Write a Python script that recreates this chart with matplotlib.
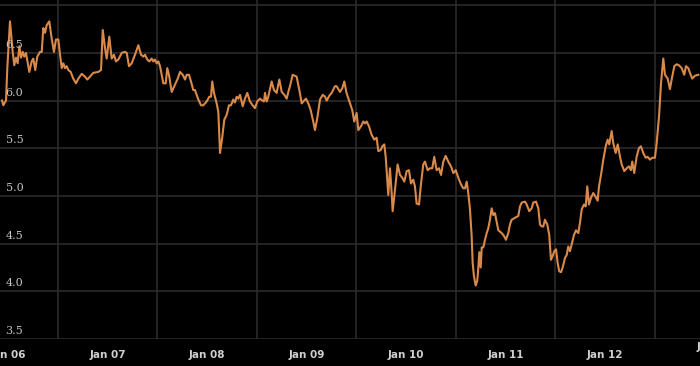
import matplotlib
matplotlib.use('Agg')
import matplotlib.pyplot as plt
from matplotlib.transforms import blended_transform_factory

# years since Jan 2006
years_since_2006 = [
    -0.060, -0.047, -0.020, -0.007, 0.020, 0.047, 0.063, 0.080, 0.097, 0.114,
    0.131, 0.148, 0.164, 0.181, 0.214, 0.238, 0.254, 0.274, 0.294, 0.322,
    0.339, 0.355, 0.372, 0.389, 0.415, 0.439, 0.462, 0.482, 0.506, 0.523,
    0.540, 0.556, 0.573, 0.590, 0.606, 0.630, 0.656, 0.683, 0.707, 0.741,
    0.774, 0.797, 0.824, 0.857, 0.908, 0.935, 0.952, 0.975, 0.992, 1.018,
    1.042, 1.065, 1.085, 1.109, 1.143, 1.176, 1.193, 1.216, 1.243, 1.276,
    1.310, 1.337, 1.360, 1.377, 1.400, 1.420, 1.444, 1.460, 1.477, 1.494,
    1.511, 1.528, 1.545, 1.561, 1.585, 1.601, 1.618, 1.645, 1.671, 1.706,
    1.729, 1.756, 1.779, 1.796, 1.819, 1.839, 1.862, 1.879, 1.913, 1.940,
    1.963, 1.997, 2.023, 2.040, 2.053, 2.070, 2.097, 2.114, 2.131, 2.154,
    2.174, 2.198, 2.221, 2.241, 2.264, 2.281, 2.298, 2.315, 2.332, 2.359,
    2.382, 2.405, 2.432, 2.459, 2.482, 2.505, 2.533, 2.556, 2.573, 2.583,
    2.600, 2.616, 2.650, 2.673, 2.700, 2.727, 2.751, 2.777, 2.801, 2.817,
    2.834, 2.861, 2.901, 2.928, 2.952, 2.968, 2.995, 3.018, 3.042, 3.068,
    3.085, 3.109, 3.136, 3.163, 3.186, 3.203, 3.229, 3.253, 3.286, 3.303,
    3.337, 3.360, 3.380, 3.402, 3.437, 3.460, 3.480, 3.504, 3.521, 3.548,
    3.571, 3.588, 3.605, 3.628, 3.655, 3.681, 3.705, 3.722, 3.746, 3.762,
    3.782, 3.796, 3.812, 3.822, 3.839, 3.856, 3.866, 3.889, 3.916, 3.940,
    3.963, 3.983, 4.007, 4.030, 4.050, 4.073, 4.090, 4.107, 4.131, 4.151,
    4.174, 4.191, 4.218, 4.241, 4.264, 4.284, 4.308, 4.332, 4.352, 4.375,
    4.399, 4.425, 4.452, 4.476, 4.500, 4.526, 4.553, 4.576, 4.593, 4.610,
    4.626, 4.643, 4.660, 4.670, 4.683, 4.700, 4.716, 4.726, 4.737, 4.751,
    4.761, 4.777, 4.794, 4.811, 4.827, 4.844, 4.861, 4.877, 4.894, 4.911,
    4.928, 4.962, 4.985, 5.005, 5.028, 5.045, 5.062, 5.095, 5.129, 5.146,
    5.163, 5.196, 5.213, 5.239, 5.263, 5.279, 5.307, 5.330, 5.347, 5.364,
    5.380, 5.397, 5.420, 5.440, 5.457, 5.474, 5.490, 5.508, 5.524, 5.540,
    5.558, 5.575, 5.598, 5.615, 5.631, 5.648, 5.665, 5.688, 5.709, 5.732,
    5.749, 5.766, 5.789, 5.806, 5.822, 5.839, 5.859, 5.882, 5.906, 5.926,
    5.940, 5.960, 5.983, 6.007, 6.027, 6.043, 6.067, 6.084, 6.108, 6.128,
    6.151, 6.168, 6.194, 6.218, 6.241, 6.261, 6.274, 6.294, 6.318, 6.341,
    6.361, 6.385, 6.409, 6.429, 6.452, 6.475, 6.502, 6.519, 6.543, 6.563,
    6.586, 6.603, 6.630, 6.653, 6.670, 6.697, 6.720, 6.743, 6.771, 6.797,
    6.814, 6.837, 6.854, 6.877, 6.904, 6.938,
]

rate = [
    6.00, 5.95, 6.00, 6.34, 6.83, 6.51, 6.37, 6.45, 6.39, 6.57,
    6.45, 6.51, 6.46, 6.50, 6.30, 6.41, 6.44, 6.32, 6.46, 6.51,
    6.51, 6.76, 6.71, 6.79, 6.83, 6.65, 6.51, 6.64, 6.64, 6.48,
    6.34, 6.39, 6.34, 6.36, 6.32, 6.30, 6.23, 6.18, 6.23, 6.28,
    6.25, 6.22, 6.25, 6.29, 6.30, 6.32, 6.74, 6.55, 6.44, 6.67,
    6.44, 6.48, 6.41, 6.43, 6.50, 6.51, 6.50, 6.36, 6.39, 6.48,
    6.58, 6.48, 6.46, 6.48, 6.43, 6.41, 6.44, 6.41, 6.43, 6.39,
    6.41, 6.36, 6.27, 6.18, 6.18, 6.34, 6.27, 6.09, 6.15, 6.23,
    6.30, 6.27, 6.22, 6.27, 6.27, 6.20, 6.11, 6.11, 6.01, 5.95,
    5.95, 5.99, 6.04, 6.04, 6.20, 6.08, 5.97, 5.88, 5.45, 5.62,
    5.80, 5.85, 5.95, 5.95, 6.01, 5.98, 6.04, 6.02, 6.06, 5.94,
    6.02, 6.08, 5.99, 5.95, 5.92, 5.99, 6.02, 6.00, 5.99, 6.08,
    5.99, 6.04, 6.20, 6.11, 6.08, 6.22, 6.09, 6.06, 6.02, 6.09,
    6.15, 6.27, 6.25, 6.11, 5.97, 5.99, 6.02, 5.97, 5.90, 5.78,
    5.69, 5.82, 6.01, 6.06, 6.04, 6.00, 6.05, 6.08, 6.15, 6.15,
    6.09, 6.13, 6.20, 6.08, 5.97, 5.90, 5.78, 5.87, 5.69, 5.73,
    5.78, 5.76, 5.78, 5.73, 5.64, 5.59, 5.61, 5.47, 5.48, 5.52,
    5.54, 5.41, 5.17, 5.01, 5.29, 5.03, 4.84, 5.06, 5.33, 5.22,
    5.19, 5.15, 5.26, 5.27, 5.13, 5.17, 5.10, 4.92, 4.91, 5.13,
    5.33, 5.36, 5.27, 5.29, 5.29, 5.41, 5.27, 5.29, 5.22, 5.36,
    5.42, 5.36, 5.31, 5.24, 5.27, 5.19, 5.12, 5.08, 5.08, 5.15,
    5.03, 4.86, 4.58, 4.30, 4.16, 4.06, 4.11, 4.23, 4.41, 4.25,
    4.46, 4.46, 4.54, 4.61, 4.66, 4.75, 4.87, 4.80, 4.82, 4.73,
    4.64, 4.61, 4.58, 4.54, 4.61, 4.70, 4.75, 4.77, 4.79, 4.89,
    4.93, 4.94, 4.91, 4.84, 4.87, 4.93, 4.94, 4.87, 4.70, 4.68,
    4.68, 4.75, 4.70, 4.59, 4.33, 4.37, 4.42, 4.44, 4.30, 4.21,
    4.20, 4.25, 4.35, 4.38, 4.47, 4.42, 4.49, 4.59, 4.64, 4.61,
    4.72, 4.86, 4.91, 4.89, 5.10, 4.91, 4.98, 5.03, 4.99, 4.95,
    5.10, 5.22, 5.38, 5.52, 5.59, 5.54, 5.68, 5.55, 5.45, 5.54,
    5.41, 5.33, 5.26, 5.29, 5.31, 5.27, 5.36, 5.24, 5.41, 5.50,
    5.52, 5.45, 5.40, 5.41, 5.38, 5.40, 5.40, 5.55, 5.83, 6.18,
    6.44, 6.27, 6.23, 6.12, 6.22, 6.36, 6.38, 6.37, 6.34, 6.27,
    6.36, 6.34, 6.29, 6.23, 6.26, 6.27,
]

tick_years = [2006, 2007, 2008, 2009, 2010, 2011, 2012]
tick_labels = ['Jan 06', 'Jan 07', 'Jan 08', 'Jan 09', 'Jan 10', 'Jan 11', 'Jan 12']
y_ticks = [3.5, 4.0, 4.5, 5.0, 5.5, 6.0, 6.5, 7.0]


def main() -> None:
    x = [2006 + t for t in years_since_2006]

    fig = plt.figure(figsize=(7.0, 3.66), dpi=100, facecolor='black')
    ax = fig.add_axes([0.0, 0.0738, 1.0, 0.9262])
    ax.set_facecolor('black')

    grid_color = '#2b2b2b'
    for v in y_ticks:
        ax.axhline(v, color=grid_color, linewidth=1.2, zorder=1)
    for yr in tick_years:
        ax.axvline(yr + 0.5, color=grid_color, linewidth=1.2, zorder=1)

    ax.plot(x, rate, color='#d98a4a', linewidth=1.5, zorder=3)

    ax.set_xlim(2005.9196, 2012.955)
    ax.set_ylim(3.5, 7.054)

    ax.set_xticks(tick_years)
    ax.set_xticklabels(tick_labels)
    ax.set_yticks([])
    ax.tick_params(axis='x', length=0, pad=8, colors='#cfcfcf', labelsize=7.5)
    for lab in ax.get_xticklabels():
        lab.set_fontweight('bold')
    for s in ax.spines.values():
        s.set_visible(False)

    trans = blended_transform_factory(ax.transAxes, ax.transData)
    for v in y_ticks[:-1]:
        ax.text(0.008, v + 0.03, f'{v:.1f}', transform=trans, ha='left',
                va='bottom', color='#c4c4c4', fontsize=8, zorder=4,
                family='DejaVu Serif')

    # the next year's label is clipped at the right edge
    fig.text(0.9955, 0.052, 'J', color='#cfcfcf', fontsize=7.5,
             fontweight='bold', ha='left', va='center')

    fig.savefig('out.png', dpi=100, facecolor='black')
    plt.close(fig)


if __name__ == '__main__':
    main()
